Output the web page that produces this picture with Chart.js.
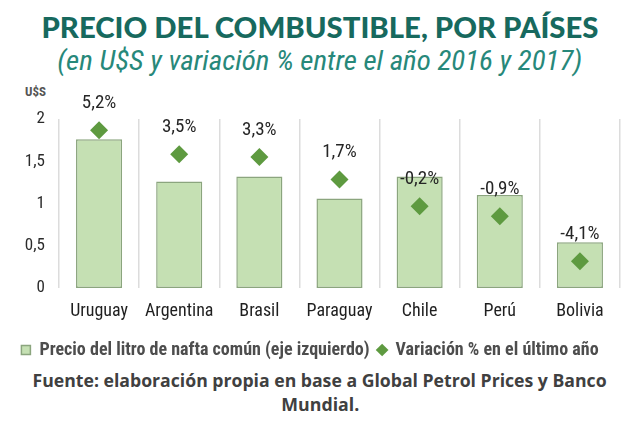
<!DOCTYPE html>
<html>
<head>
<meta charset="utf-8">
<script src="https://cdn.jsdelivr.net/npm/chart.js@4.4.1/dist/chart.umd.min.js"></script>
<style>
  html, body { margin: 0; padding: 0; background: #fff; }
  body { width: 640px; height: 429px; position: relative; overflow: hidden; }
  .line { position: absolute; left: 0; width: 640px; text-align: center; white-space: nowrap; }
  .line span { display: inline-block; transform-origin: 50% 50%; }
  .title { top: 10px; font-family: Lato, Roboto, sans-serif; font-weight: 900; font-size: 28px; color: #17695e; }
  .subtitle { top: 45px; font-family: "Roboto Condensed", Roboto, sans-serif; font-style: italic; font-size: 27px; color: #27887a; }
  .unit {
    position: absolute; left: 25px; top: 84px;
    font-family: "Roboto Condensed", Roboto, sans-serif; font-weight: bold; font-size: 13px; color: #555;
  }
  .source { font-family: "Open Sans", sans-serif; font-weight: bold; font-size: 17px; color: #404040; }
  #wrap { position: absolute; left: 0; top: 78px; width: 640px; height: 291px; }
</style>
</head>
<body>
<div class="line title"><span data-w="557">PRECIO DEL COMBUSTIBLE, POR PAÍSES</span></div>
<div class="line subtitle"><span data-w="525">(en U$S y variación % entre el año 2016 y 2017)</span></div>
<div class="unit">U$S</div>
<div id="wrap"><canvas id="chart"></canvas></div>
<div class="line source" style="top:369px"><span data-w="574">Fuente: elaboración propia en base a Global Petrol Prices y Banco</span></div>
<div class="line source" style="top:393px"><span data-w="78">Mundial.</span></div>

<script>
    const countries = ['Uruguay', 'Argentina', 'Brasil', 'Paraguay', 'Chile', 'Perú', 'Bolivia'];
    const fuelPrice = [1.76, 1.26, 1.32, 1.06, 1.32, 1.10, 0.54];
    const priceChange = [5.2, 3.5, 3.3, 1.7, -0.2, -0.9, -4.1];
    const priceTicks = [0, 0.5, 1, 1.5, 2];

    // squeeze the html text lines to the widths of the reference
    document.querySelectorAll('.line span').forEach(el => {
        const w = el.getBoundingClientRect().width;
        el.style.transform = 'scaleX(' + (Number(el.dataset.w) / w) + ')';
    });

    const family = "'Roboto Condensed', Roboto, sans-serif";

    function formatNum(v) {
        return String(v).replace('.', ',');
    }

    // labels above each diamond
    const changeLabels = {
        id: 'changeLabels',
        afterDatasetsDraw(chart) {
            const meta = chart.getDatasetMeta(1);
            const ctx = chart.ctx;
            ctx.save();
            ctx.font = '19px ' + family;
            ctx.fillStyle = '#262626';
            ctx.textAlign = 'center';
            ctx.textBaseline = 'middle';
            meta.data.forEach((pt, i) => {
                ctx.fillText(priceChange[i].toFixed(1).replace('.', ',') + '%', pt.x, pt.y - 27);
            });
            ctx.restore();
        }
    };

    const ctx = document.getElementById('chart').getContext('2d');
    new Chart(ctx, {
        type: 'bar',
        data: {
            labels: countries,
            datasets: [{
                type: 'bar',
                label: 'Precio del litro de nafta común (eje izquierdo)',
                data: fuelPrice,
                backgroundColor: '#c5e0b3',
                borderColor: '#8ba57e',
                borderWidth: 1.5,
                borderSkipped: false,
                barPercentage: 0.575,
                categoryPercentage: 1,
                pointStyle: 'rect',
                yAxisID: 'y',
                order: 2
            }, {
                type: 'line',
                label: 'Variación % en el último año',
                data: priceChange,
                showLine: false,
                pointStyle: 'rectRot',
                pointRadius: 9,
                pointHoverRadius: 9,
                pointBackgroundColor: '#5e9a40',
                pointBorderWidth: 0,
                backgroundColor: '#5e9a40',
                borderColor: '#5e9a40',
                yAxisID: 'y2',
                order: 1
            }]
        },
        options: {
            responsive: true,
            maintainAspectRatio: false,
            animation: false,
            layout: { padding: { top: 41, right: 20, left: 0, bottom: 0 } },
            plugins: {
                legend: {
                    position: 'bottom',
                    labels: {
                        usePointStyle: true,
                        boxWidth: 9,
                        boxHeight: 9,
                        padding: 8,
                        color: '#4d4d4d',
                        font: { family: family, size: 18, weight: 'bold' },
                        sort: (a, b) => a.datasetIndex - b.datasetIndex
                    }
                },
                tooltip: { enabled: false }
            },
            scales: {
                x: {
                    grid: { color: '#dcdcdc', lineWidth: 1.5, drawTicks: false, offset: true },
                    border: { display: false },
                    ticks: {
                        color: '#1f1f1f', padding: 13, maxRotation: 0, minRotation: 0, autoSkip: false,
                        font: { family: family, size: 18 }
                    },
                    afterFit: (scale) => { scale.height = 45; }
                },
                y: {
                    min: 0,
                    max: 2,
                    afterBuildTicks: (scale) => { scale.ticks = priceTicks.map(v => ({ value: v })); },
                    grid: { display: false, drawTicks: false },
                    border: { display: false },
                    ticks: {
                        color: '#2b2b2b', padding: 14,
                        font: { family: family, size: 17 },
                        callback: (v) => formatNum(v)
                    },
                    afterFit: (scale) => { scale.width = 59; }
                },
                y2: {
                    min: -6,
                    max: 6,
                    display: false
                }
            }
        },
        plugins: [changeLabels]
    });
</script>
</body>
</html>
